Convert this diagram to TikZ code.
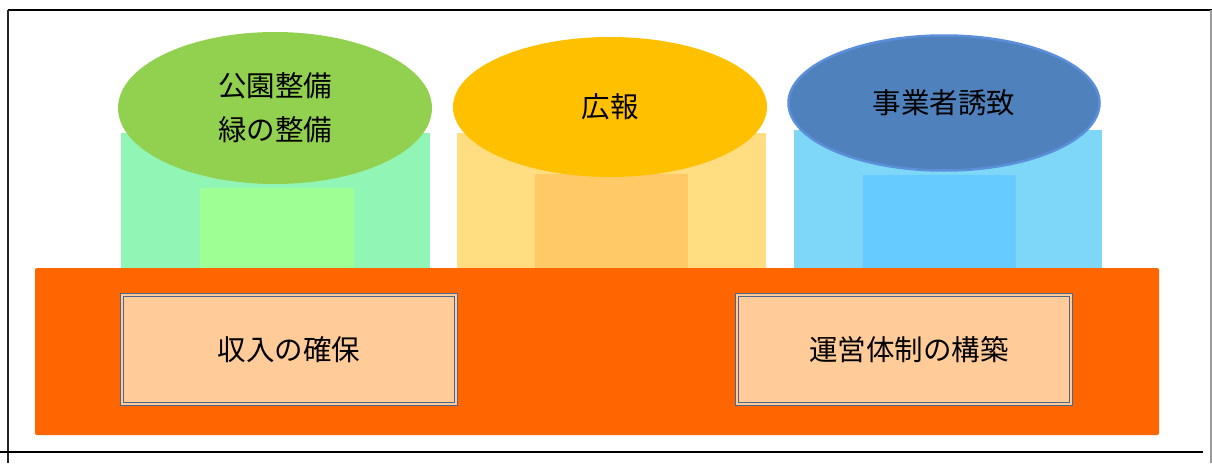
\documentclass[tikz,border=0pt]{standalone}
\usepackage{fontspec}
\newfontfamily\jp{Noto Sans CJK JP}
\usetikzlibrary{shapes.geometric}
\definecolor{gEll}{HTML}{92D050}
\definecolor{gOut}{HTML}{91F5B6}
\definecolor{gIn}{HTML}{9EFF94}
\definecolor{yEll}{HTML}{FFC000}
\definecolor{yOut}{HTML}{FFDD80}
\definecolor{yIn}{HTML}{FFCA66}
\definecolor{bEll}{HTML}{4F81BD}
\definecolor{bEllLine}{HTML}{5B8FDA}
\definecolor{bOut}{HTML}{7FD7F7}
\definecolor{bIn}{HTML}{66CCFF}
\definecolor{base}{HTML}{FF6600}
\definecolor{peach}{HTML}{FFCC99}
\definecolor{boxLine}{HTML}{4A6791}
\begin{document}
\begin{tikzpicture}[x=1pt,y=-1pt,
  blk/.style={inner sep=0pt, outer sep=0pt, anchor=north west},
  ell/.style={ellipse, inner sep=0pt, outer sep=0pt, minimum width=314pt, minimum height=152pt, font=\jp\fontsize{28.5}{44}\selectfont, align=center},
  valbox/.style={draw=boxLine, line width=1.2pt, double=peach, double distance=2.2pt, fill=peach, inner sep=0pt, minimum width=334pt, minimum height=109pt, font=\jp\fontsize{28.5}{32}\selectfont},
  frame/.style={line width=1.6pt, black}]
\useasboundingbox (0,0) rectangle (1212,463);
% frame
\coordinate (tl) at (8,10);
\coordinate (tr) at (1212,10);
\coordinate (lb) at (8,463);
\coordinate (rt) at (1211,10);
\coordinate (rb) at (1211,463);
\coordinate (bl) at (0,452);
\coordinate (br) at (1203,452);
\draw[frame] (tl) -- (tr);
\draw[line width=1.2pt, black!85] (tl) -- (lb);
\draw[line width=1.2pt, black!40] (rt) -- (rb);
\draw[line width=2pt, black] (bl) -- (br);
% pillars
\node[blk, fill=gOut, minimum width=309pt, minimum height=136pt] (gO) at (121,133) {};
\node[blk, fill=gIn, minimum width=154pt, minimum height=81pt] (gI) at (200,188) {};
\node[blk, fill=yOut, minimum width=309pt, minimum height=136pt] (yO) at (457,133) {};
\node[blk, fill=yIn, minimum width=153pt, minimum height=95pt] (yI) at (535,174) {};
\node[blk, fill=bOut, minimum width=308pt, minimum height=139pt] (bO) at (794,130) {};
\node[blk, fill=bIn, minimum width=153pt, minimum height=94pt] (bI) at (863,175) {};
% ellipses
\node[ell, fill=gEll] (e1) at (275,108) {公園整備\\緑の整備};
\node[ell, fill=yEll, minimum height=140pt] (e2) at (610,107) {広報};
\node[ell, fill=bEll, draw=bEllLine, line width=2.5pt, minimum width=311pt, minimum height=135pt] (e3) at (944,103) {事業者誘致};
% base
\node[blk, fill=base, rounded corners=2pt, minimum width=1124pt, minimum height=167pt] (base) at (35,268) {};
\node[valbox] (v1) at (289,349.5) {収入の確保};
\node[valbox] (v2) at (904,349.5) {\hspace{10pt}運営体制の構築};
\end{tikzpicture}
\end{document}
